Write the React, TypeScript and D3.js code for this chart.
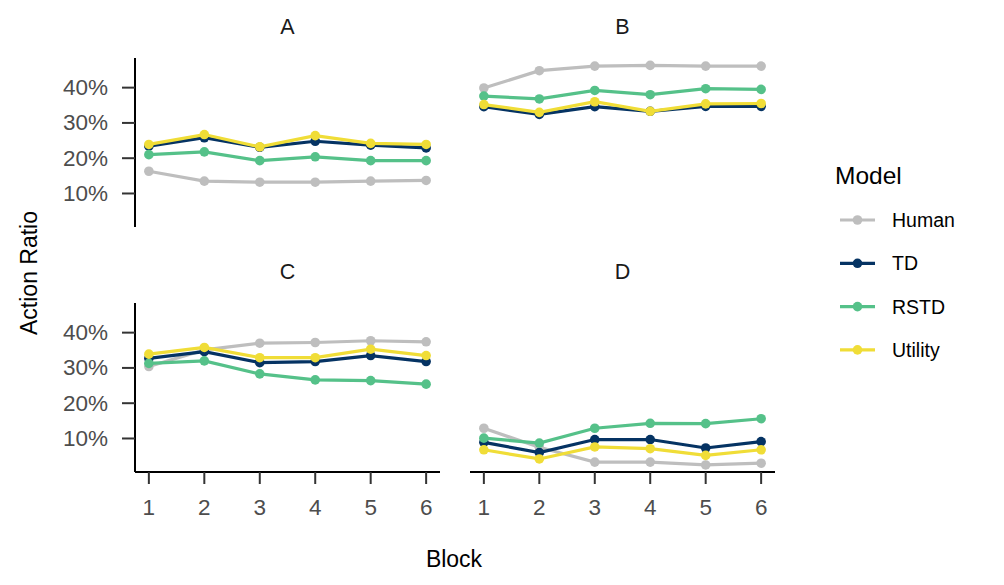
import * as d3 from "d3";

const blocks = [1, 2, 3, 4, 5, 6];
const panels = ["A", "B", "C", "D"];
const models = ["Human", "TD", "RSTD", "Utility"];
const modelColors = ["#BEBEBE", "#053363", "#55C189", "#F0DD37"];

// action ratio per panel, per model, per block
const humanVals = [
  [0.163, 0.135, 0.132, 0.132, 0.135, 0.137],
  [0.399, 0.448, 0.461, 0.463, 0.461, 0.461],
  [0.304, 0.351, 0.37, 0.372, 0.377, 0.374],
  [0.129, 0.075, 0.033, 0.033, 0.025, 0.03],
];
const tdVals = [
  [0.234, 0.258, 0.231, 0.248, 0.237, 0.229],
  [0.346, 0.324, 0.346, 0.333, 0.347, 0.347],
  [0.327, 0.346, 0.315, 0.318, 0.335, 0.318],
  [0.089, 0.06, 0.097, 0.097, 0.073, 0.091],
];
const rstdVals = [
  [0.21, 0.218, 0.193, 0.204, 0.193, 0.193],
  [0.376, 0.368, 0.392, 0.38, 0.397, 0.395],
  [0.313, 0.32, 0.283, 0.266, 0.264, 0.254],
  [0.101, 0.087, 0.129, 0.143, 0.142, 0.156],
];
const utilityVals = [
  [0.239, 0.267, 0.232, 0.264, 0.242, 0.239],
  [0.352, 0.33, 0.36, 0.333, 0.354, 0.355],
  [0.339, 0.358, 0.329, 0.329, 0.353, 0.335],
  [0.068, 0.042, 0.076, 0.071, 0.052, 0.068],
];
const seriesVals = [humanVals, tdVals, rstdVals, utilityVals];
const yTicks = [0.1, 0.2, 0.3, 0.4];

const FONT = "Arial, 'Liberation Sans', sans-serif";

export default function App() {
  const width = 1004;
  const height = 585;
  const colX = [
    [135, 440],
    [470, 775],
  ];
  const rowY = [
    [227, 58],
    [472, 303],
  ];

  const y0 = d3.scaleLinear().domain([0.005, 0.484]).range(rowY[0]);
  const y1 = d3.scaleLinear().domain([0.005, 0.484]).range(rowY[1]);
  const yScales = [y0, y1];
  const xScales = colX.map((r) => d3.scaleLinear().domain([0.75, 6.25]).range(r));
  const fmt = d3.format(".0%");

  return (
    <svg
      width={width}
      height={height}
      style={{ position: "absolute", left: 0, top: 0, background: "#fff" }}
      fontFamily={FONT}
    >
      {panels.map((p, pi) => {
        const col = pi % 2;
        const row = Math.floor(pi / 2);
        const x = xScales[col];
        const y = yScales[row];
        const cx = (colX[col][0] + colX[col][1]) / 2;
        return (
          <g key={p}>
            <text
              x={cx}
              y={rowY[row][1] - 31}
              textAnchor="middle"
              dominantBaseline="central"
              fontSize={21.5}
              fill="#1A1A1A"
            >
              {p}
            </text>
            {col === 0 && (
              <g>
                <line
                  x1={colX[0][0]}
                  x2={colX[0][0]}
                  y1={rowY[row][0]}
                  y2={rowY[row][1]}
                  stroke="#000"
                  strokeWidth={2}
                />
                {yTicks.map((t) => (
                  <g key={t}>
                    <line
                      x1={colX[0][0] - 13}
                      x2={colX[0][0]}
                      y1={y(t)}
                      y2={y(t)}
                      stroke="#333"
                      strokeWidth={2}
                    />
                    <text
                      x={108}
                      y={y(t)}
                      textAnchor="end"
                      dominantBaseline="central"
                      fontSize={22.5}
                      fill="#4D4D4D"
                    >
                      {fmt(t)}
                    </text>
                  </g>
                ))}
              </g>
            )}
            {row === 1 && (
              <g>
                <line
                  x1={colX[col][0]}
                  x2={colX[col][1]}
                  y1={rowY[1][0]}
                  y2={rowY[1][0]}
                  stroke="#000"
                  strokeWidth={2}
                />
                {blocks.map((b) => (
                  <g key={b}>
                    <line
                      x1={x(b)}
                      x2={x(b)}
                      y1={rowY[1][0]}
                      y2={rowY[1][0] + 12}
                      stroke="#333"
                      strokeWidth={2}
                    />
                    <text
                      x={x(b)}
                      y={507}
                      textAnchor="middle"
                      dominantBaseline="central"
                      fontSize={22.5}
                      fill="#4D4D4D"
                    >
                      {b}
                    </text>
                  </g>
                ))}
              </g>
            )}
            {models.map((m, mi) => {
              const vals = seriesVals[mi][pi];
              const line = d3
                .line<number>()
                .x((_, i) => x(blocks[i]))
                .y((v) => y(v));
              return (
                <g key={m}>
                  <path
                    d={line(vals) ?? ""}
                    fill="none"
                    stroke={modelColors[mi]}
                    strokeWidth={3.2}
                  />
                  {vals.map((v, i) => (
                    <circle
                      key={i}
                      cx={x(blocks[i])}
                      cy={y(v)}
                      r={4.8}
                      fill={modelColors[mi]}
                    />
                  ))}
                </g>
              );
            })}
          </g>
        );
      })}

      <text
        x={29}
        y={273}
        transform="rotate(-90,29,273)"
        textAnchor="middle"
        dominantBaseline="central"
        fontSize={23}
        fill="#000"
      >
        Action Ratio
      </text>
      <text
        x={454}
        y={559}
        textAnchor="middle"
        dominantBaseline="central"
        fontSize={23}
        fill="#000"
      >
        Block
      </text>

      <g>
        <text x={835} y={175} dominantBaseline="central" fontSize={24.5} fill="#000">
          Model
        </text>
        {models.map((m, mi) => {
          const ly = 220 + mi * 43.3;
          return (
            <g key={m}>
              <line x1={840} x2={875} y1={ly} y2={ly} stroke={modelColors[mi]} strokeWidth={3.2} />
              <circle cx={857.5} cy={ly} r={4.8} fill={modelColors[mi]} />
              <text x={892} y={ly} dominantBaseline="central" fontSize={19.5} fill="#000">
                {m}
              </text>
            </g>
          );
        })}
      </g>
    </svg>
  );
}
